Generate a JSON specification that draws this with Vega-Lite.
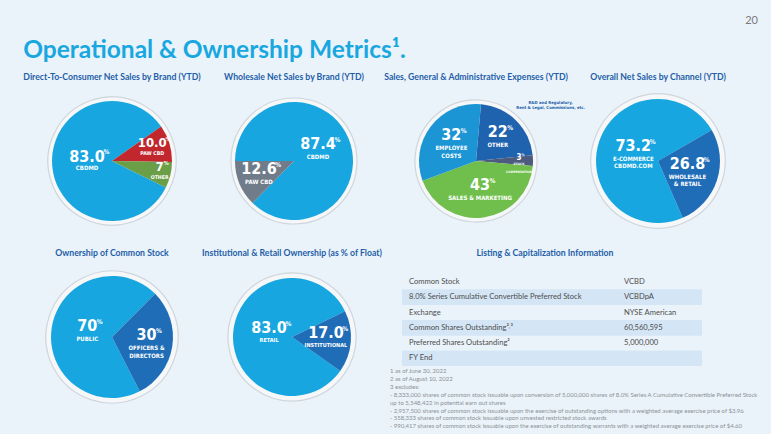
{
  "$schema": "https://vega.github.io/schema/vega-lite/v6.json",
  "background": "#eaf3fa",
  "padding": {"left": 23, "top": 14, "right": 4, "bottom": 4},
  "config": {
    "view": {"stroke": null},
    "font": "Lato",
    "title": {"font": "Lato", "fontSize": 8.7, "fontWeight": "bold", "color": "#1f5ea8", "offset": 9, "anchor": "middle", "frame": "group"}
  },
  "spacing": 18,
  "resolve": {"scale": {"color": "independent", "theta": "independent", "radius": "independent", "x": "independent", "y": "independent", "size": "independent"}},
  "vconcat": [
    {
      "spacing": 6,
      "resolve": {"scale": {"color": "independent", "theta": "independent", "radius": "independent", "size": "independent"}},
      "vconcat": [
        {
          "width": 716, "height": 1,
          "data": {"values": [{}]},
          "mark": {"type": "rule", "opacity": 0},
          "encoding": {},
          "title": {"text": "20", "anchor": "end", "fontSize": 11, "fontWeight": "normal", "color": "#7a7a7a", "offset": 4}
        },
        {
          "title": {"text": "Operational & Ownership Metrics¹.", "anchor": "start", "frame": "bounds", "fontSize": 24.5, "fontWeight": "bold", "color": "#19a7e0", "offset": 10},
          "spacing": 42,
          "bounds": "flush",
          "resolve": {"scale": {"color": "independent", "theta": "independent", "radius": "independent", "size": "independent"}},
          "hconcat": [
            {
              "width": 140, "height": 140,
              "title": "Direct-To-Consumer Net Sales by Brand (YTD)",
              "data": {"values": [
                {"segment": "CBDMD", "share": 83.0, "shown": "83.0", "label": "CBDMD"},
                {"segment": "PAW CBD", "share": 10.0, "shown": "10.0", "label": "PAW CBD"},
                {"segment": "OTHER", "share": 7, "shown": "7", "label": "OTHER"}
              ]},
              "transform": [{"window": [{"op": "row_number", "as": "k"}]}],
              "layer": [
                {
                  "transform": [{"aggregate": [{"op": "sum", "field": "share", "as": "share"}]}],
                  "mark": {"type": "arc", "outerRadius": 64, "fill": "#f6f7f8", "stroke": "#cfd6dc", "strokeWidth": 1.2},
                  "encoding": {"theta": {"field": "share", "type": "quantitative", "stack": true, "scale": {"range": [2.0281, 8.3113]}}}
                },
                {
                  "mark": {"type": "arc", "outerRadius": 60},
                  "encoding": {
                    "theta": {"field": "share", "type": "quantitative", "stack": true},
                    "order": {"field": "k", "type": "quantitative"},
                    "color": {"field": "segment", "type": "nominal", "legend": null, "scale": {"domain": ["CBDMD", "PAW CBD", "OTHER"], "range": ["#17a6df", "#c1272d", "#6a9e47"]}}
                  }
                },
                {
                  "mark": {"type": "text", "font": "DejaVu Sans Condensed, Liberation Sans Narrow, Roboto, sans-serif", "fontWeight": "bold", "color": "white", "baseline": "middle", "dy": -6},
                  "encoding": {
                    "theta": {"field": "share", "type": "quantitative", "stack": true},
                    "order": {"field": "k", "type": "quantitative"},
                    "detail": {"field": "segment", "type": "nominal"},
                    "radius": {"field": "share", "type": "quantitative", "scale": {"type": "linear", "zero": false, "domain": [7, 10, 83], "range": [49, 42, 25], "clamp": true}},
                    "size": {"condition": {"test": "datum.share < 50", "value": 13}, "value": 16},
                    "text": {"field": "shown"}
                  }
                },
                {
                  "mark": {"type": "text", "font": "DejaVu Sans Condensed, Liberation Sans Narrow, Roboto, sans-serif", "fontWeight": "bold", "color": "white", "align": "left", "baseline": "middle", "dy": {"expr": "datum.share < 50 ? -9.5 : -10.5"}, "dx": {"expr": "(datum.share < 50 ? 0.8125 : 1) * ((length(datum.shown) - (indexof(datum.shown, '.') >= 0 ? 1 : 0)) * 4.6 + (indexof(datum.shown, '.') >= 0 ? 2.3 : 0)) + 0.3"}},
                  "encoding": {
                    "theta": {"field": "share", "type": "quantitative", "stack": true},
                    "order": {"field": "k", "type": "quantitative"},
                    "detail": {"field": "segment", "type": "nominal"},
                    "radius": {"field": "share", "type": "quantitative"},
                    "size": {"condition": {"test": "datum.share < 50", "value": 5.5}, "value": 6.5},
                    "text": {"value": "%"}
                  }
                },
                {
                  "mark": {"type": "text", "font": "DejaVu Sans Condensed, Liberation Sans Narrow, Roboto, sans-serif", "fontWeight": "bold", "color": "white", "baseline": "top", "dy": 2.5, "lineBreak": "\n", "lineHeight": 7.5},
                  "encoding": {
                    "theta": {"field": "share", "type": "quantitative", "stack": true},
                    "order": {"field": "k", "type": "quantitative"},
                    "detail": {"field": "segment", "type": "nominal"},
                    "radius": {"field": "share", "type": "quantitative"},
                    "size": {"condition": {"test": "datum.share < 50", "value": 5.2}, "value": 6},
                    "text": {"field": "label"}
                  }
                }
              ]
            },
            {
              "width": 140, "height": 140,
              "title": "Wholesale Net Sales by Brand (YTD)",
              "data": {"values": [
                {"segment": "CBDMD", "share": 87.4, "shown": "87.4", "label": "CBDMD"},
                {"segment": "PAW CBD", "share": 12.6, "shown": "12.6", "label": "PAW CBD"}
              ]},
              "transform": [{"window": [{"op": "row_number", "as": "k"}]}],
              "layer": [
                {
                  "transform": [{"aggregate": [{"op": "sum", "field": "share", "as": "share"}]}],
                  "mark": {"type": "arc", "outerRadius": 63, "fill": "#f6f7f8", "stroke": "#cfd6dc", "strokeWidth": 1.2},
                  "encoding": {"theta": {"field": "share", "type": "quantitative", "stack": true, "scale": {"range": [4.7124, 10.9956]}}}
                },
                {
                  "mark": {"type": "arc", "outerRadius": 59},
                  "encoding": {
                    "theta": {"field": "share", "type": "quantitative", "stack": true},
                    "order": {"field": "k", "type": "quantitative"},
                    "color": {"field": "segment", "type": "nominal", "legend": null, "scale": {"domain": ["CBDMD", "PAW CBD"], "range": ["#17a6df", "#707c8a"]}}
                  }
                },
                {
                  "mark": {"type": "text", "font": "DejaVu Sans Condensed, Liberation Sans Narrow, Roboto, sans-serif", "fontWeight": "bold", "fontSize": 16, "color": "white", "baseline": "middle", "dy": -7},
                  "encoding": {
                    "theta": {"field": "share", "type": "quantitative", "stack": true},
                    "order": {"field": "k", "type": "quantitative"},
                    "detail": {"field": "segment", "type": "nominal"},
                    "radius": {"field": "share", "type": "quantitative", "scale": {"type": "linear", "zero": false, "domain": [12.6, 87.4], "range": [38, 26], "clamp": true}},
                    "text": {"field": "shown"}
                  }
                },
                {
                  "mark": {"type": "text", "font": "DejaVu Sans Condensed, Liberation Sans Narrow, Roboto, sans-serif", "fontWeight": "bold", "fontSize": 6.5, "color": "white", "align": "left", "baseline": "middle", "dy": -11, "dx": {"expr": "(length(datum.shown) - (indexof(datum.shown, '.') >= 0 ? 1 : 0)) * 4.6 + (indexof(datum.shown, '.') >= 0 ? 2.3 : 0) + 0.3"}},
                  "encoding": {
                    "theta": {"field": "share", "type": "quantitative", "stack": true},
                    "order": {"field": "k", "type": "quantitative"},
                    "detail": {"field": "segment", "type": "nominal"},
                    "radius": {"field": "share", "type": "quantitative"},
                    "text": {"value": "%"}
                  }
                },
                {
                  "mark": {"type": "text", "font": "DejaVu Sans Condensed, Liberation Sans Narrow, Roboto, sans-serif", "fontWeight": "bold", "fontSize": 6, "color": "white", "baseline": "top", "dy": 3, "lineBreak": "\n", "lineHeight": 7.5},
                  "encoding": {
                    "theta": {"field": "share", "type": "quantitative", "stack": true},
                    "order": {"field": "k", "type": "quantitative"},
                    "detail": {"field": "segment", "type": "nominal"},
                    "radius": {"field": "share", "type": "quantitative"},
                    "text": {"field": "label"}
                  }
                }
              ]
            },
            {
              "width": 140, "height": 140,
              "title": "Sales, General & Administrative Expenses (YTD)",
              "data": {"values": [
                {"segment": "OTHER", "share": 22, "shown": "22", "label": "OTHER", "note": "R&D and Regulatory,\nRent & Legal, Commissions, etc."},
                {"segment": "STOCK COMPENSATION", "share": 3, "shown": "3", "label": "STOCK\nCOMPENSATION", "note": ""},
                {"segment": "SALES & MARKETING", "share": 43, "shown": "43", "label": "SALES & MARKETING", "note": ""},
                {"segment": "EMPLOYEE COSTS", "share": 32, "shown": "32", "label": "EMPLOYEE\nCOSTS", "note": ""}
              ]},
              "transform": [{"window": [{"op": "row_number", "as": "k"}]}],
              "resolve": {"scale": {"radius": "independent"}},
              "layer": [
                {
                  "transform": [{"aggregate": [{"op": "sum", "field": "share", "as": "share"}]}],
                  "mark": {"type": "arc", "outerRadius": 61, "fill": "#f6f7f8", "stroke": "#cfd6dc", "strokeWidth": 1.2},
                  "encoding": {"theta": {"field": "share", "type": "quantitative", "stack": true, "scale": {"range": [0.0873, 6.3705]}}}
                },
                {
                  "mark": {"type": "arc", "outerRadius": 57},
                  "encoding": {
                    "theta": {"field": "share", "type": "quantitative", "stack": true},
                    "order": {"field": "k", "type": "quantitative"},
                    "color": {"field": "segment", "type": "nominal", "legend": null, "scale": {"domain": ["OTHER", "STOCK COMPENSATION", "SALES & MARKETING", "EMPLOYEE COSTS"], "range": ["#1f63ae", "#4c5b7e", "#70bf4c", "#1c95d5"]}}
                  }
                },
                {
                  "mark": {"type": "text", "font": "DejaVu Sans Condensed, Liberation Sans Narrow, Roboto, sans-serif", "fontWeight": "bold", "color": "white", "baseline": "middle", "dy": {"expr": "datum.share < 5 ? -3 : -7"}},
                  "encoding": {
                    "theta": {"field": "share", "type": "quantitative", "stack": true},
                    "order": {"field": "k", "type": "quantitative"},
                    "detail": {"field": "segment", "type": "nominal"},
                    "radius": {"field": "share", "type": "quantitative", "scale": {"type": "linear", "zero": false, "domain": [3, 22], "range": [43, 31], "clamp": true}},
                    "size": {"condition": {"test": "datum.share < 5", "value": 8}, "value": 16},
                    "text": {"field": "shown"}
                  }
                },
                {
                  "mark": {"type": "text", "font": "DejaVu Sans Condensed, Liberation Sans Narrow, Roboto, sans-serif", "fontWeight": "bold", "color": "white", "align": "left", "baseline": "middle", "dy": {"expr": "datum.share < 5 ? -5.5 : -11"}, "dx": {"expr": "(datum.share < 5 ? 0.5 : 1) * length(datum.shown) * 4.6 + 0.3"}},
                  "encoding": {
                    "theta": {"field": "share", "type": "quantitative", "stack": true},
                    "order": {"field": "k", "type": "quantitative"},
                    "detail": {"field": "segment", "type": "nominal"},
                    "radius": {"field": "share", "type": "quantitative", "scale": {"type": "linear", "zero": false, "domain": [3, 22], "range": [43, 31], "clamp": true}},
                    "size": {"condition": {"test": "datum.share < 5", "value": 3.5}, "value": 6.5},
                    "text": {"value": "%"}
                  }
                },
                {
                  "mark": {"type": "text", "font": "DejaVu Sans Condensed, Liberation Sans Narrow, Roboto, sans-serif", "fontWeight": "bold", "color": "white", "baseline": "top", "dy": {"expr": "datum.share < 5 ? 1.5 : 3"}, "lineBreak": "\n", "lineHeight": 7.5},
                  "encoding": {
                    "theta": {"field": "share", "type": "quantitative", "stack": true},
                    "order": {"field": "k", "type": "quantitative"},
                    "detail": {"field": "segment", "type": "nominal"},
                    "radius": {"field": "share", "type": "quantitative", "scale": {"type": "linear", "zero": false, "domain": [3, 22], "range": [43, 31], "clamp": true}},
                    "size": {"condition": {"test": "datum.share < 5", "value": 3.2}, "value": 6},
                    "text": {"field": "label"}
                  }
                },
                {
                  "mark": {"type": "text", "font": "DejaVu Sans Condensed, Liberation Sans Narrow, Roboto, sans-serif", "fontWeight": "bold", "fontSize": 4.2, "color": "#1f5ea8", "baseline": "middle", "dx": 10, "dy": 8, "lineBreak": "\n", "lineHeight": 5},
                  "encoding": {
                    "theta": {"field": "share", "type": "quantitative", "stack": true},
                    "order": {"field": "k", "type": "quantitative"},
                    "detail": {"field": "segment", "type": "nominal"},
                    "radius": {"field": "k", "type": "quantitative", "scale": {"type": "linear", "zero": false, "domain": [1, 2], "range": [92, 0], "clamp": true}},
                    "text": {"field": "note"}
                  }
                }
              ]
            },
            {
              "width": 140, "height": 140,
              "title": "Overall Net Sales by Channel (YTD)",
              "data": {"values": [
                {"segment": "E-COMMERCE CBDMD.COM", "share": 73.2, "shown": "73.2", "label": "E-COMMERCE\nCBDMD.COM"},
                {"segment": "WHOLESALE & RETAIL", "share": 26.8, "shown": "26.8", "label": "WHOLESALE\n& RETAIL"}
              ]},
              "transform": [{"window": [{"op": "row_number", "as": "k"}]}],
              "layer": [
                {
                  "transform": [{"aggregate": [{"op": "sum", "field": "share", "as": "share"}]}],
                  "mark": {"type": "arc", "outerRadius": 67, "fill": "#f6f7f8", "stroke": "#cfd6dc", "strokeWidth": 1.2},
                  "encoding": {"theta": {"field": "share", "type": "quantitative", "stack": true, "scale": {"range": [2.7314, 9.0146]}}}
                },
                {
                  "mark": {"type": "arc", "outerRadius": 62},
                  "encoding": {
                    "theta": {"field": "share", "type": "quantitative", "stack": true},
                    "order": {"field": "k", "type": "quantitative"},
                    "color": {"field": "segment", "type": "nominal", "legend": null, "scale": {"domain": ["E-COMMERCE CBDMD.COM", "WHOLESALE & RETAIL"], "range": ["#17a6df", "#1f6db7"]}}
                  }
                },
                {
                  "mark": {"type": "text", "font": "DejaVu Sans Condensed, Liberation Sans Narrow, Roboto, sans-serif", "fontWeight": "bold", "fontSize": 16, "color": "white", "baseline": "middle", "dy": -7},
                  "encoding": {
                    "theta": {"field": "share", "type": "quantitative", "stack": true},
                    "order": {"field": "k", "type": "quantitative"},
                    "detail": {"field": "segment", "type": "nominal"},
                    "radius": {"field": "share", "type": "quantitative", "scale": {"type": "linear", "zero": false, "domain": [26.8, 73.2], "range": [31, 26], "clamp": true}},
                    "text": {"field": "shown"}
                  }
                },
                {
                  "mark": {"type": "text", "font": "DejaVu Sans Condensed, Liberation Sans Narrow, Roboto, sans-serif", "fontWeight": "bold", "fontSize": 6.5, "color": "white", "align": "left", "baseline": "middle", "dy": -11, "dx": {"expr": "(length(datum.shown) - (indexof(datum.shown, '.') >= 0 ? 1 : 0)) * 4.6 + (indexof(datum.shown, '.') >= 0 ? 2.3 : 0) + 0.3"}},
                  "encoding": {
                    "theta": {"field": "share", "type": "quantitative", "stack": true},
                    "order": {"field": "k", "type": "quantitative"},
                    "detail": {"field": "segment", "type": "nominal"},
                    "radius": {"field": "share", "type": "quantitative"},
                    "text": {"value": "%"}
                  }
                },
                {
                  "mark": {"type": "text", "font": "DejaVu Sans Condensed, Liberation Sans Narrow, Roboto, sans-serif", "fontWeight": "bold", "fontSize": 6, "color": "white", "baseline": "top", "dy": 3, "lineBreak": "\n", "lineHeight": 7.5},
                  "encoding": {
                    "theta": {"field": "share", "type": "quantitative", "stack": true},
                    "order": {"field": "k", "type": "quantitative"},
                    "detail": {"field": "segment", "type": "nominal"},
                    "radius": {"field": "share", "type": "quantitative"},
                    "text": {"field": "label"}
                  }
                }
              ]
            }
          ]
        }
      ]
    },
    {
      "spacing": 22,
      "bounds": "flush",
      "resolve": {"scale": {"color": "independent", "theta": "independent", "radius": "independent", "x": "independent", "y": "independent"}},
      "hconcat": [
        {
          "width": 140, "height": 140,
          "title": "Ownership of Common Stock",
          "data": {"values": [
            {"segment": "PUBLIC", "share": 70, "shown": "70", "label": "PUBLIC"},
            {"segment": "OFFICERS & DIRECTORS", "share": 30, "shown": "30", "label": "OFFICERS &\nDIRECTORS"}
          ]},
          "transform": [{"window": [{"op": "row_number", "as": "k"}]}],
          "layer": [
            {
              "transform": [{"aggregate": [{"op": "sum", "field": "share", "as": "share"}]}],
              "mark": {"type": "arc", "outerRadius": 66, "fill": "#f6f7f8", "stroke": "#cfd6dc", "strokeWidth": 1.2},
              "encoding": {"theta": {"field": "share", "type": "quantitative", "stack": true, "scale": {"range": [2.6704, 8.9536]}}}
            },
            {
              "mark": {"type": "arc", "outerRadius": 61},
              "encoding": {
                "theta": {"field": "share", "type": "quantitative", "stack": true},
                "order": {"field": "k", "type": "quantitative"},
                "color": {"field": "segment", "type": "nominal", "legend": null, "scale": {"domain": ["PUBLIC", "OFFICERS & DIRECTORS"], "range": ["#17a6df", "#1f6db7"]}}
              }
            },
            {
              "mark": {"type": "text", "font": "DejaVu Sans Condensed, Liberation Sans Narrow, Roboto, sans-serif", "fontWeight": "bold", "fontSize": 16, "color": "white", "baseline": "middle", "dy": -7},
              "encoding": {
                "theta": {"field": "share", "type": "quantitative", "stack": true},
                "order": {"field": "k", "type": "quantitative"},
                "detail": {"field": "segment", "type": "nominal"},
                "radius": {"field": "share", "type": "quantitative", "scale": {"type": "linear", "zero": false, "domain": [30, 70], "range": [35, 25], "clamp": true}},
                "text": {"field": "shown"}
              }
            },
            {
              "mark": {"type": "text", "font": "DejaVu Sans Condensed, Liberation Sans Narrow, Roboto, sans-serif", "fontWeight": "bold", "fontSize": 6.5, "color": "white", "align": "left", "baseline": "middle", "dy": -11, "dx": {"expr": "(length(datum.shown) - (indexof(datum.shown, '.') >= 0 ? 1 : 0)) * 4.6 + (indexof(datum.shown, '.') >= 0 ? 2.3 : 0) + 0.3"}},
              "encoding": {
                "theta": {"field": "share", "type": "quantitative", "stack": true},
                "order": {"field": "k", "type": "quantitative"},
                "detail": {"field": "segment", "type": "nominal"},
                "radius": {"field": "share", "type": "quantitative"},
                "text": {"value": "%"}
              }
            },
            {
              "mark": {"type": "text", "font": "DejaVu Sans Condensed, Liberation Sans Narrow, Roboto, sans-serif", "fontWeight": "bold", "fontSize": 6, "color": "white", "baseline": "top", "dy": 3, "lineBreak": "\n", "lineHeight": 7.5},
              "encoding": {
                "theta": {"field": "share", "type": "quantitative", "stack": true},
                "order": {"field": "k", "type": "quantitative"},
                "detail": {"field": "segment", "type": "nominal"},
                "radius": {"field": "share", "type": "quantitative"},
                "text": {"field": "label"}
              }
            }
          ]
        },
        {
          "width": 176, "height": 140,
          "title": "Institutional & Retail Ownership (as % of Float)",
          "data": {"values": [
            {"segment": "RETAIL", "share": 83.0, "shown": "83.0", "label": "RETAIL"},
            {"segment": "INSTITUTIONAL", "share": 17.0, "shown": "17.0", "label": "INSTITUTIONAL"}
          ]},
          "transform": [{"window": [{"op": "row_number", "as": "k"}]}],
          "layer": [
            {
              "transform": [{"aggregate": [{"op": "sum", "field": "share", "as": "share"}]}],
              "mark": {"type": "arc", "outerRadius": 64, "fill": "#f6f7f8", "stroke": "#cfd6dc", "strokeWidth": 1.2},
              "encoding": {"theta": {"field": "share", "type": "quantitative", "stack": true, "scale": {"range": [2.1852, 8.4684]}}}
            },
            {
              "mark": {"type": "arc", "outerRadius": 59},
              "encoding": {
                "theta": {"field": "share", "type": "quantitative", "stack": true},
                "order": {"field": "k", "type": "quantitative"},
                "color": {"field": "segment", "type": "nominal", "legend": null, "scale": {"domain": ["RETAIL", "INSTITUTIONAL"], "range": ["#17a6df", "#1f6db7"]}}
              }
            },
            {
              "mark": {"type": "text", "font": "DejaVu Sans Condensed, Liberation Sans Narrow, Roboto, sans-serif", "fontWeight": "bold", "fontSize": 16, "color": "white", "baseline": "middle", "dy": -7},
              "encoding": {
                "theta": {"field": "share", "type": "quantitative", "stack": true},
                "order": {"field": "k", "type": "quantitative"},
                "detail": {"field": "segment", "type": "nominal"},
                "radius": {"field": "share", "type": "quantitative", "scale": {"type": "linear", "zero": false, "domain": [17, 83], "range": [34, 23], "clamp": true}},
                "text": {"field": "shown"}
              }
            },
            {
              "mark": {"type": "text", "font": "DejaVu Sans Condensed, Liberation Sans Narrow, Roboto, sans-serif", "fontWeight": "bold", "fontSize": 6.5, "color": "white", "align": "left", "baseline": "middle", "dy": -11, "dx": {"expr": "(length(datum.shown) - (indexof(datum.shown, '.') >= 0 ? 1 : 0)) * 4.6 + (indexof(datum.shown, '.') >= 0 ? 2.3 : 0) + 0.3"}},
              "encoding": {
                "theta": {"field": "share", "type": "quantitative", "stack": true},
                "order": {"field": "k", "type": "quantitative"},
                "detail": {"field": "segment", "type": "nominal"},
                "radius": {"field": "share", "type": "quantitative"},
                "text": {"value": "%"}
              }
            },
            {
              "mark": {"type": "text", "font": "DejaVu Sans Condensed, Liberation Sans Narrow, Roboto, sans-serif", "fontWeight": "bold", "fontSize": 5.5, "color": "white", "baseline": "top", "dy": 3, "lineBreak": "\n", "lineHeight": 7.5},
              "encoding": {
                "theta": {"field": "share", "type": "quantitative", "stack": true},
                "order": {"field": "k", "type": "quantitative"},
                "detail": {"field": "segment", "type": "nominal"},
                "radius": {"field": "share", "type": "quantitative"},
                "text": {"field": "label"}
              }
            }
          ]
        },
        {
          "spacing": 0,
          "bounds": "flush",
          "resolve": {"scale": {"x": "independent", "y": "independent"}},
          "vconcat": [
            {
              "width": 300, "height": 99,
              "title": {"text": "Listing & Capitalization Information", "dx": -7},
              "data": {"values": [
                {"item": "Common Stock", "value": "VCBD"},
                {"item": "8.0% Series Cumulative Convertible Preferred Stock", "value": "VCBDpA"},
                {"item": "Exchange", "value": "NYSE American"},
                {"item": "Common Shares Outstanding²˒³", "value": "60,560,595"},
                {"item": "Preferred Shares Outstanding²", "value": "5,000,000"},
                {"item": "FY End", "value": ""}
              ]},
              "transform": [
                {"window": [{"op": "row_number", "as": "k"}]},
                {"fold": ["item", "value"], "as": ["col", "txt"]}
              ],
              "encoding": {
                "y": {"field": "item", "type": "nominal", "sort": null, "axis": null, "scale": {"paddingInner": 0, "paddingOuter": 0.24, "align": 1}}
              },
              "layer": [
                {
                  "mark": {"type": "rect", "color": "#d4e5f5"},
                  "encoding": {"opacity": {"condition": {"test": "datum.k % 2 == 0", "value": 1}, "value": 0}}
                },
                {
                  "mark": {"type": "text", "align": "left", "font": "Lato", "fontSize": 7.6, "color": "#4d4d4d"},
                  "encoding": {
                    "x": {"field": "col", "type": "nominal", "axis": null, "scale": {"type": "point", "domain": ["item", "value"], "range": [7, 222], "padding": 0}},
                    "text": {"field": "txt"}
                  }
                }
              ]
            },
            {
              "width": 365, "height": 1,
              "data": {"values": [{}]},
              "mark": {"type": "rule", "opacity": 0},
              "encoding": {},
              "title": {
                "text": [
                  "1 as of June 30, 2022",
                  "2 as of August 10, 2022",
                  "3 excludes:",
                  "- 8,333,000 shares of common stock issuable upon conversion of 5,000,000 shares of 8.0% Series A Cumulative Convertible Preferred Stock",
                  "  up to 5,548,422 in potential earn out shares",
                  "- 2,957,500 shares of common stock issuable upon the exercise of outstanding options with a weighted average exercise price of $3.96",
                  "- 558,333 shares of common stock issuable upon unvested restricted stock awards",
                  "- 990,417 shares of common stock issuable upon the exercise of outstanding warrants with a weighted average exercise price of $4.60"
                ],
                "orient": "bottom", "anchor": "start", "frame": "group", "dx": -12,
                "fontSize": 6, "fontWeight": "normal", "color": "#8c9196", "lineHeight": 7.9, "offset": 1, "baseline": "top"
              }
            }
          ]
        }
      ]
    }
  ]
}
